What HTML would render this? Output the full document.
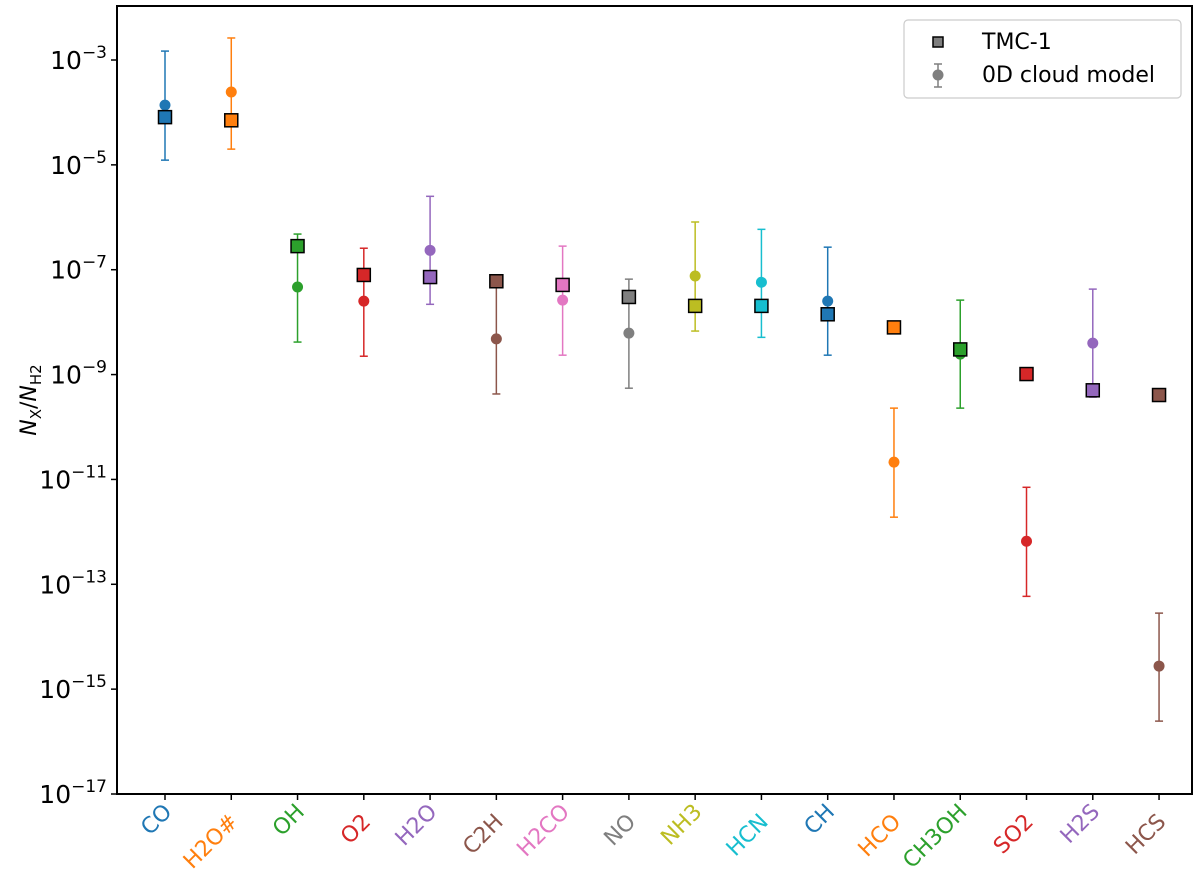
<!DOCTYPE html>
<html><head><meta charset="utf-8"><style>
body{margin:0;background:#fff;}
svg text{font-family:"DejaVu Sans","Liberation Sans",sans-serif;}
</style></head><body>
<svg id="chart" width="1200" height="886" xmlns="http://www.w3.org/2000/svg">
<g id="plot"></g>
</svg>
<script>
const species = ["CO","H2O#","OH","O2","H2O","C2H","H2CO","NO","NH3","HCN","CH","HCO","CH3OH","SO2","H2S","HCS"];
const obsLog = [-4.09,-4.15,-6.55,-7.10,-7.14,-7.22,-7.29,-7.52,-7.69,-7.69,-7.85,-8.10,-8.52,-8.99,-9.30,-9.39];
const modelLog = [-3.86,-3.61,-7.33,-7.60,-6.63,-8.32,-7.58,-8.21,-7.12,-7.24,-7.60,-10.67,-8.61,-12.18,-8.40,-14.56];
const errHiLog = [-2.83,-2.58,-6.32,-6.59,-5.60,-7.24,-6.55,-7.18,-6.09,-6.23,-6.57,-9.64,-7.58,-11.15,-7.37,-13.55];
const errLoLog = [-4.91,-4.70,-8.38,-8.65,-7.66,-9.37,-8.63,-9.26,-8.17,-8.29,-8.63,-11.72,-9.64,-13.23,-9.43,-15.61];
const yTicks = [-3,-5,-7,-9,-11,-13,-15,-17];
const palette = ["#1f77b4","#ff7f0e","#2ca02c","#d62728","#9467bd","#8c564b","#e377c2","#7f7f7f","#bcbd22","#17becf"];

const L=117,R=1192,T=6,B=794;
const yMin=-17,yMax=-1.97;
function ys(v){return B-(v-yMin)/(yMax-yMin)*(B-T);}
function xs(i){return 165+i*66.27;}
const NS="http://www.w3.org/2000/svg";
const g=document.getElementById('plot');
function mk(tag,attrs,parent){const e=document.createElementNS(NS,tag);for(const k in attrs)e.setAttribute(k,attrs[k]);(parent||g).appendChild(e);return e;}

yTicks.forEach(t=>{
  const y=ys(t);
  const tk=mk('line',{x1:L-6,x2:L,y1:y,y2:y,stroke:'#000','stroke-width':1.5});
  
  
  const tx=mk('text',{x:L-10,y:y+9,'text-anchor':'end','font-size':25,fill:'#000'});
  
  
  tx.innerHTML='10<tspan dy="-11" font-size="17">−'+(-t)+'</tspan>';
});
species.forEach((s,i)=>{
  const x=xs(i),c=palette[i%10];
  const tk=mk('line',{x1:x,x2:x,y1:B,y2:B+6,stroke:'#000','stroke-width':1.5});
  
  
  const ly=(i%2===0)?813:823;
  const tx=mk('text',{x:x+8,y:ly,'text-anchor':'end','font-size':22,fill:c,transform:`rotate(-45 ${x+8} ${ly})`});
  
  
  tx.textContent=s;
});
species.forEach((s,i)=>{
  const x=xs(i),c=palette[i%10];
  const y1=ys(errHiLog[i]),y2=ys(errLoLog[i]);
  const eb=mk('g',{stroke:c,'stroke-width':1.5});
  
  
  mk('line',{x1:x,x2:x,y1:y1,y2:y2},eb);
  mk('line',{x1:x-4,x2:x+4,y1:y1,y2:y1},eb);
  mk('line',{x1:x-4,x2:x+4,y1:y2,y2:y2},eb);
  const p=mk('circle',{cx:x,cy:ys(modelLog[i]),r:5.5,fill:c});
  
  
});
species.forEach((s,i)=>{
  const x=xs(i),c=palette[i%10],y=ys(obsLog[i]);
  const q=mk('rect',{x:x-6.5,y:y-6.5,width:13,height:13,fill:c,stroke:'#000','stroke-width':1.5});
  
  
});
const fr=mk('rect',{x:L,y:T,width:R-L,height:B-T,fill:'none',stroke:'#000','stroke-width':2});


const yt=mk('text',{x:0,y:0,'text-anchor':'middle','font-size':22,fill:'#000',transform:'translate(36 400) rotate(-90)'});


yt.innerHTML='<tspan font-style="italic">N</tspan><tspan font-size="15" dy="5">X</tspan><tspan dy="-5">/</tspan><tspan font-style="italic">N</tspan><tspan font-size="15" dy="5">H2</tspan>';
const lg=mk('g',{});


mk('rect',{x:904,y:20,width:277,height:78,rx:4,fill:'#fff',stroke:'#ccc','stroke-width':1.2},lg);
const e1=mk('g',{},lg);


mk('rect',{x:933,y:37,width:10,height:10,fill:'#7f7f7f',stroke:'#000','stroke-width':1.5},e1);
const t1=mk('text',{x:982,y:49,'font-size':22,fill:'#000'},e1);t1.textContent='TMC-1';
const e2=mk('g',{},lg);


mk('line',{x1:938,x2:938,y1:64,y2:87,stroke:'#7f7f7f','stroke-width':1.5},e2);
mk('line',{x1:934,x2:942,y1:64,y2:64,stroke:'#7f7f7f','stroke-width':1.5},e2);
mk('line',{x1:934,x2:942,y1:87,y2:87,stroke:'#7f7f7f','stroke-width':1.5},e2);
mk('circle',{cx:938,cy:75,r:5.5,fill:'#7f7f7f'},e2);
const t2=mk('text',{x:982,y:82,'font-size':22,fill:'#000'},e2);t2.textContent='0D cloud model';
</script>
</body></html>
